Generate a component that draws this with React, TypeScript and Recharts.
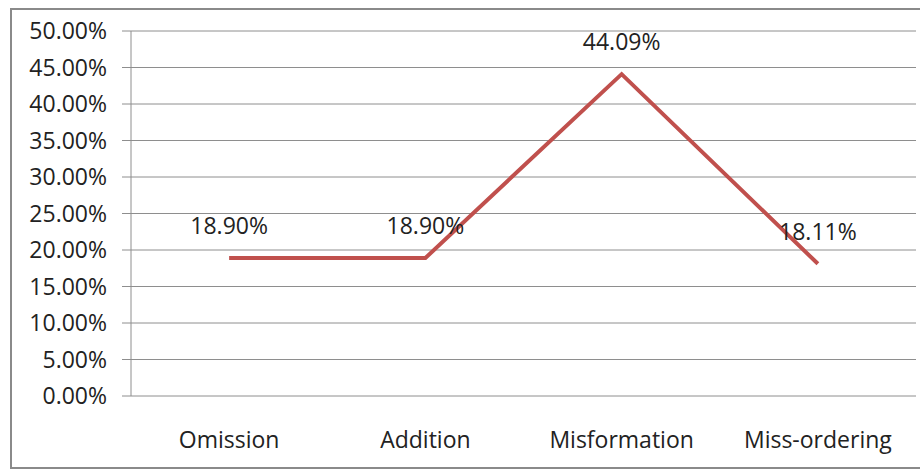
import React from 'react';
import {
  LineChart,
  Line,
  XAxis,
  YAxis,
  CartesianGrid,
  LabelList,
} from 'recharts';

const categories = ['Omission', 'Addition', 'Misformation', 'Miss-ordering'];
const percentages = [18.9, 18.9, 44.09, 18.11];
const yTicks = [0, 5, 10, 15, 20, 25, 30, 35, 40, 45, 50];
const boundaryTicks = [0, 1, 2, 3, 4];

const chartData = categories.map((name, i) => ({
  name,
  value: percentages[i],
  pos: i + 0.5,
}));

const font = "'Open Sans', 'DejaVu Sans', sans-serif";
const gridColor = '#8e8e8e';
const textStyle = { fill: '#222', fontSize: 23, fontFamily: font };

export default function App() {
  return (
    <div
      style={{
        position: 'absolute',
        left: 0,
        top: 0,
        width: 920,
        height: 469,
        background: '#fff',
        overflow: 'hidden',
        fontFamily: font,
      }}
    >
      {/* chart frame */}
      <div
        style={{
          position: 'absolute',
          left: 10,
          top: 8,
          width: 930,
          height: 457,
          border: '2px solid #8a8a8a',
        }}
      />
      <div style={{ position: 'absolute', left: 0, top: 0 }}>
        <LineChart
          width={920}
          height={469}
          data={chartData}
          margin={{ top: 31, right: 4, bottom: 43, left: 0 }}
        >
          <CartesianGrid
            vertical={false}
            stroke={gridColor}
            strokeWidth={1}
            horizontalValues={yTicks}
          />
          <XAxis
            xAxisId="bounds"
            type="number"
            dataKey="pos"
            domain={[0, 4]}
            ticks={boundaryTicks}
            interval={0}
            tickFormatter={() => ''}
            tickSize={8}
            tickLine={{ stroke: gridColor }}
            axisLine={{ stroke: gridColor }}
            height={0}
          />
          <XAxis
            dataKey="name"
            scale="band"
            tickLine={false}
            axisLine={false}
            tickSize={0}
            tickMargin={36}
            interval={0}
            height={30}
            tick={textStyle}
          />
          <YAxis
            width={131}
            domain={[0, 50]}
            ticks={yTicks}
            interval={0}
            tickSize={9}
            tickMargin={15}
            tickLine={{ stroke: gridColor }}
            axisLine={{ stroke: gridColor }}
            tickFormatter={(v: number) => `${v.toFixed(2)}%`}
            tick={textStyle}
          />
          <Line
            type="linear"
            dataKey="value"
            stroke="#c0504d"
            strokeWidth={4}
            dot={false}
            activeDot={false}
            isAnimationActive={false}
          >
            <LabelList
              dataKey="value"
              position="top"
              offset={24}
              formatter={(v: number) => `${v.toFixed(2)}%`}
              style={textStyle}
            />
          </Line>
        </LineChart>
      </div>
    </div>
  );
}
